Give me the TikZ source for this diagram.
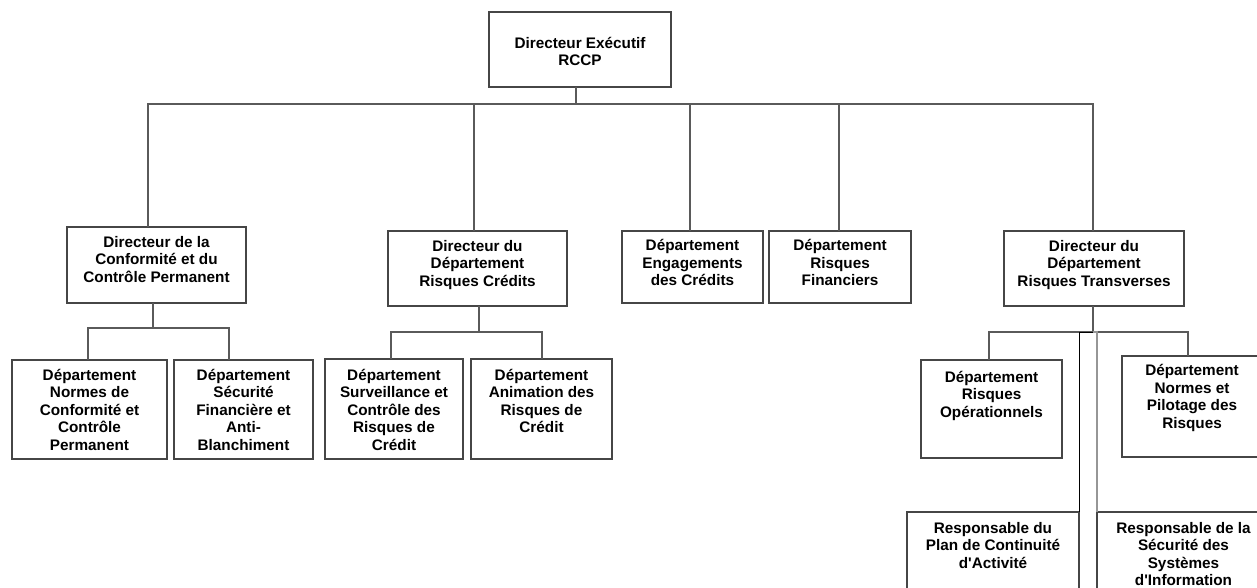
\documentclass[tikz,border=0pt]{standalone}
\usepackage{fontspec}
\setmainfont{Liberation Sans}[Ligatures=TeXOff]
\definecolor{boxc}{RGB}{70,70,70}
\definecolor{linec}{RGB}{90,90,90}
\definecolor{lightc}{RGB}{150,150,150}
\newcommand{\mkbox}[5]{%
  \node[box, minimum width={#4-#2}, minimum height={#5-#3}] (#1) at ({(#2+#4)/2},{(#3+#5)/2}) {};}
\begin{document}
\begin{tikzpicture}[x=1pt,y=-1pt,
  box/.style={draw=boxc, line width=1.3pt, inner sep=0pt, outer sep=0pt, fill=white},
  txt/.style={font=\bfseries\fontsize{15.3}{17.4}\selectfont, align=center, inner sep=0pt, anchor=north},
  link/.style={draw=linec, line width=1.3pt}]
\clip (0,0) rectangle (1257,588);
\fill[white] (0,0) rectangle (1257,588);
% boxes
\mkbox{root}{489}{12}{671}{87}
\mkbox{A}{67}{227}{246}{303}
\mkbox{B}{388}{231}{567}{306}
\mkbox{C}{622}{231}{763}{303}
\mkbox{D}{769}{231}{911}{303}
\mkbox{E}{1004}{231}{1184}{306}
\mkbox{A1}{12}{360}{167}{459}
\mkbox{A2}{174}{360}{313}{459}
\mkbox{B1}{325}{359}{463}{459}
\mkbox{B2}{471}{359}{612}{459}
\mkbox{E1}{921}{360}{1062}{458}
\mkbox{E2}{1122}{356}{1270}{457}
\mkbox{E3}{907}{512}{1079}{610}
\mkbox{E4}{1097}{512}{1270}{610}
% texts
\node[txt, anchor=center] (troot) at ([yshift=-2]root.center) {Directeur Exécutif\\RCCP};
\node[txt] (tA) at ([yshift=-9]A.north) {Directeur de la\\Conformité et du\\Contrôle Permanent};
\node[txt] (tB) at ([yshift=-9]B.north) {Directeur du\\Département\\Risques Crédits};
\node[txt] (tC) at ([yshift=-8.5]C.north) {Département\\Engagements\\des Crédits};
\node[txt] (tD) at ([yshift=-8.5]D.north) {Département\\Risques\\Financiers};
\node[txt] (tE) at ([yshift=-9]E.north) {Directeur du\\Département\\Risques Transverses};
\node[txt] (tA1) at ([yshift=-9]A1.north) {Département\\Normes de\\Conformité et\\Contrôle\\Permanent};
\node[txt] (tA2) at ([yshift=-9]A2.north) {Département\\Sécurité\\Financière et\\Anti-\\Blanchiment};
\node[txt] (tB1) at ([yshift=-10]B1.north) {Département\\Surveillance et\\Contrôle des\\Risques de\\Crédit};
\node[txt] (tB2) at ([yshift=-10]B2.north) {Département\\Animation des\\Risques de\\Crédit};
\node[txt] (tE1) at ([yshift=-11]E1.north) {Département\\Risques\\Opérationnels};
\node[txt] (tE2) at ([xshift=-4,yshift=-8.5]E2.north) {Département\\Normes et\\Pilotage des\\Risques};
\node[txt] (tE3) at ([yshift=-10]E3.north) {Responsable du\\Plan de Continuité\\d'Activité};
\node[txt] (tE4) at ([yshift=-10]E4.north) {Responsable de la\\Sécurité des\\Systèmes\\d'Information};
% connectors level 1
\coordinate (bus) at (576,104);
\draw[link] ([xshift=-4]root.south) -- (bus);
\draw[link] (bus) -| ([xshift=-8.5]A.north);
\draw[link] (bus) -| ([xshift=-3.5]B.north);
\draw[link] (bus) -| ([xshift=-2.5]C.north);
\draw[link] (bus) -| ([xshift=-1]D.north);
\draw[link] (bus) -| ([xshift=-1]E.north);
% A children
\coordinate (Abus) at (153,328);
\draw[link] ([xshift=-3.5]A.south) -- (Abus);
\draw[link] (Abus) -| ([xshift=-1.5]A1.north);
\draw[link] (Abus) -| ([xshift=-14.5]A2.north);
% B children
\coordinate (Bbus) at (479,332);
\draw[link] ([xshift=1.5]B.south) -- (Bbus);
\draw[link] (Bbus) -| ([xshift=-3]B1.north);
\draw[link] (Bbus) -| ([xshift=0.5]B2.north);
% E children
\coordinate (Ebus) at (1093,332);
\draw[link] ([xshift=-1]E.south) -- (Ebus);
\draw[link] (Ebus) -| ([xshift=-2.5]E1.north);
\draw[link] (Ebus) -| ([xshift=-8]E2.north);
\draw[link, draw=black, line width=1pt] (Ebus) -| (E3.north east);
\draw[link, draw=lightc] (Ebus) -| (E4.north west);
\end{tikzpicture}
\end{document}
